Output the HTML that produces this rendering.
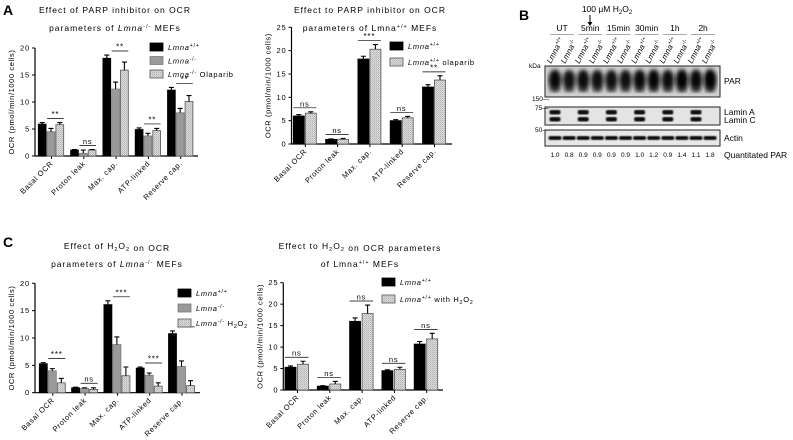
<!DOCTYPE html>
<html><head><meta charset="utf-8">
<style>
html,body{margin:0;padding:0;background:#fff;}
svg{display:block;font-family:"Liberation Sans",sans-serif;}
</style></head>
<body>
<svg id="fig" width="793" height="440" viewBox="0 0 793 440" xmlns="http://www.w3.org/2000/svg">
<defs>
<pattern id="hatch" width="2" height="2" patternUnits="userSpaceOnUse">
<rect width="2" height="2" fill="#dcdcdc"/><rect width="1" height="1" fill="#b0b0b0"/><rect x="1" y="1" width="1" height="1" fill="#c4c4c4"/>
</pattern>
<filter id="blur1"><feGaussianBlur stdDeviation="2.2"/></filter>
<filter id="blur2"><feGaussianBlur stdDeviation="0.8"/></filter>
</defs>
<text x="3" y="15" font-size="14" font-weight="bold">A</text>
<text x="519" y="20" font-size="14" font-weight="bold">B</text>
<text x="3" y="247" font-size="14" font-weight="bold">C</text>
<g id="charts"></g>
<g id="blot"></g>
</svg>
<script>
const NS="http://www.w3.org/2000/svg";
const categories=["Basal OCR","Proton leak","Max. cap.","ATP-linked","Reserve cap."];
const a1Wt=[5.9,1.1,18.1,4.9,12.2], a1WtErr=[0.3,0.1,0.6,0.3,0.5];
const a1Ko=[4.5,0.5,12.4,3.7,8.0], a1KoErr=[0.6,0.6,1.3,0.5,0.8];
const a1Ola=[5.8,1.1,15.9,4.7,10.1], a1OlaErr=[0.4,0.1,1.5,0.4,1.1];
const a1Sig=["**","ns","**","**","**"];
const a2Wt=[6.0,1.0,18.2,5.0,12.2], a2WtErr=[0.3,0.1,0.6,0.2,0.5];
const a2Ola=[6.6,1.0,20.3,5.6,13.7], a2OlaErr=[0.3,0.2,1.0,0.3,0.9];
const a2Sig=["ns","ns","***","ns","**"];
const c1Wt=[5.3,0.9,16.1,4.5,10.8], c1WtErr=[0.2,0.1,0.7,0.2,0.5];
const c1Ko=[4.0,0.8,8.8,3.2,4.8], c1KoErr=[0.4,0.1,1.4,0.4,1.0];
const c1H2o2=[1.8,0.6,3.1,1.2,1.3], c1H2o2Err=[0.8,0.3,1.6,0.6,0.9];
const c1Sig=["***","ns","***","***","***"];
const c2Wt=[5.3,0.9,16.0,4.5,10.7], c2WtErr=[0.3,0.1,0.8,0.2,0.6];
const c2H2o2=[6.0,1.4,17.8,4.8,11.9], c2H2o2Err=[0.7,0.6,2.0,0.5,1.3];
const c2Sig=["ns","ns","ns","ns","ns"];
const ticks20=[0,5,10,15,20], ticks25=[0,5,10,15,20,25];
const quantPar=["1.0","0.8","0.9","0.9","0.9","0.9","1.0","1.2","0.9","1.4","1.1","1.8"];
const timeGroups=["UT","5min","15min","30min","1h","2h"];

function el(tag,attrs,parent){const e=document.createElementNS(NS,tag);for(const k in attrs)e.setAttribute(k,attrs[k]);(parent||root).appendChild(e);return e;}
const root=document.getElementById('charts');
const fills=["#000","#9a9a9a","url(#hatch)"];
const strokes=["#000","#7a7a7a","#555"];

function chart(cfg){
  const g=el('g',{});
  
  
  const yS=v=>cfg.base-(v/cfg.max)*(cfg.base-cfg.top);
  const nS=cfg.series.length;
  const xB=(i,s)=>cfg.start+i*cfg.pitch+s*(cfg.barW+cfg.gap);
  const ya=el('line',{x1:cfg.ax,x2:cfg.ax,y1:yS(cfg.max),y2:cfg.base,stroke:'#000','stroke-width':1.2},g);
  
  const xa=el('line',{x1:cfg.ax,x2:cfg.end,y1:cfg.base,y2:cfg.base,stroke:'#000','stroke-width':1.2},g);
  
  cfg.ticks.forEach(t=>{
    el('line',{x1:cfg.ax-3,x2:cfg.ax,y1:yS(t),y2:yS(t),stroke:'#000'},g);
    const tx=el('text',{x:cfg.ax-5,y:yS(t)+2.5,'font-size':7.5,'text-anchor':'end','letter-spacing':'0.8'},g);
    tx.textContent=t;
    
  });
  const yl=el('text',{x:0,y:0,'font-size':7.5,'text-anchor':'middle','letter-spacing':'0.6',transform:`translate(${cfg.ax-21},${(cfg.base+yS(cfg.max))/2}) rotate(-90)`},g);
  yl.textContent="OCR (pmol/min/1000 cells)";
  
  categories.forEach((c,i)=>{
    const cx=cfg.start+i*cfg.pitch+(nS*(cfg.barW+cfg.gap))/2;
    el('line',{x1:cx,x2:cx,y1:cfg.base,y2:cfg.base+3,stroke:'#000'},g);
    const t=el('text',{x:0,y:0,'font-size':7.5,'text-anchor':'end','letter-spacing':'0.6',transform:`translate(${cx+2},${cfg.base+8}) rotate(-45)`},g);
    t.textContent=c;
    
    let topV=0;
    cfg.series.forEach((s,si)=>{
      const v=s.vals[i],e=s.err[i];topV=Math.max(topV,v+e);
      const x=xB(i,si),y=yS(v);
      const r=el('rect',{x:x,y:y,width:cfg.barW,height:cfg.base-y,fill:fills[s.style],stroke:strokes[s.style],'stroke-width':0.8},g);
      
      const ey=yS(v+e),mx=x+cfg.barW/2;
      const eb=el('path',{d:`M${mx},${y}V${ey}M${mx-2.5},${ey}H${mx+2.5}`,stroke:'#000','stroke-width':1.1,fill:'none'},g);
      
    });
    const s0=nS===3?1:0;
    const x1=xB(i,s0),x2=xB(i,nS-1)+cfg.barW;
    const ly=yS(topV)-4;
    el('line',{x1:x1,x2:x2,y1:ly,y2:ly,stroke:'#000','stroke-width':0.7},g);
    const st=el('text',{x:(x1+x2)/2,y:ly-1.5,'font-size':cfg.sig[i]==='ns'?7.5:8,'text-anchor':'middle','letter-spacing':'0.8'},g);
    st.textContent=cfg.sig[i];
    
  });
  cfg.title.forEach((ln,li)=>{
    const t=el('text',{x:cfg.tx,y:cfg.ty+li*18,'font-size':8.5,'text-anchor':'middle','letter-spacing':'1'},g);
    t.innerHTML=ln;
    
  });
  cfg.legend.forEach((lg,li)=>{
    const y=cfg.ly+li*cfg.lpitch;
    const b=el('rect',{x:cfg.lx,y:y,width:13,height:8,fill:fills[lg.style],stroke:strokes[lg.style],'stroke-width':0.8},g);
    
    const t=el('text',{x:cfg.lx+18,y:y+7,'font-size':7.5,'letter-spacing':'0.7'},g);
    t.innerHTML=lg.label;
    
  });
}
const lm='<tspan font-style="italic">Lmna</tspan>';
const sup=s=>`<tspan font-size="5.5" dy="-3">${s}</tspan><tspan dy="3"> </tspan>`;
const h2o2='H<tspan font-size="5.5" dy="2">2</tspan><tspan dy="-2">O</tspan><tspan font-size="5.5" dy="2">2</tspan><tspan dy="-2"></tspan>';

chart({name:'chart-a-lmna-ko-parp',ax:35,base:156,top:48,max:20,ticks:ticks20,start:38.3,pitch:32.3,barW:7.8,gap:1,end:198,
 series:[{key:'wt',vals:a1Wt,err:a1WtErr,style:0},{key:'ko',vals:a1Ko,err:a1KoErr,style:1},{key:'olaparib',vals:a1Ola,err:a1OlaErr,style:2}],
 sig:a1Sig,tx:115,ty:13,title:['Effect of PARP inhibitor on OCR','parameters of '+lm+sup('-/-')+'MEFs'],
 lx:150,ly:43,lpitch:13.5,legend:[{style:0,label:lm+sup('+/+')},{style:1,label:lm+sup('-/-')},{style:2,label:lm+sup('-/-')+'Olaparib'}]});
chart({name:'chart-a-lmna-wt-parp',ax:291.5,base:144,top:27.3,max:25,ticks:ticks25,start:293.3,pitch:32.3,barW:11,gap:1,end:452,
 series:[{key:'wt',vals:a2Wt,err:a2WtErr,style:0},{key:'olaparib',vals:a2Ola,err:a2OlaErr,style:2}],
 sig:a2Sig,tx:370,ty:13,title:['Effect to PARP inhibitor on OCR','parameters of Lmna'+sup('+/+')+'MEFs'],
 lx:390,ly:42,lpitch:16,legend:[{style:0,label:lm+sup('+/+')},{style:2,label:lm+sup('+/+')+'olaparib'}]});
chart({name:'chart-c-lmna-ko-h2o2',ax:35,base:392.7,top:283.3,max:20,ticks:ticks20,start:39.3,pitch:32.3,barW:8,gap:1,end:200,
 series:[{key:'wt',vals:c1Wt,err:c1WtErr,style:0},{key:'ko',vals:c1Ko,err:c1KoErr,style:1},{key:'h2o2',vals:c1H2o2,err:c1H2o2Err,style:2}],
 sig:c1Sig,tx:117,ty:249,title:['Effect of '+h2o2+' on OCR','parameters of '+lm+sup('-/-')+'MEFs'],
 lx:178,ly:289,lpitch:15,legend:[{style:0,label:lm+sup('+/+')},{style:1,label:lm+sup('-/-')},{style:2,label:lm+sup('-/-')+h2o2}]});
chart({name:'chart-c-lmna-wt-h2o2',ax:283.3,base:390,top:282.7,max:25,ticks:ticks25,start:285,pitch:32.3,barW:11,gap:1.5,end:443,
 series:[{key:'wt',vals:c2Wt,err:c2WtErr,style:0},{key:'h2o2',vals:c2H2o2,err:c2H2o2Err,style:2}],
 sig:c2Sig,tx:360,ty:249,title:['Effect to '+h2o2+' on OCR parameters','of Lmna'+sup('+/+')+'MEFs'],
 lx:382,ly:278,lpitch:17,legend:[{style:0,label:lm+sup('+/+')},{style:2,label:lm+sup('+/+')+'with '+h2o2}]});

const B=document.getElementById('blot');

const laneX=i=>555+i*14.1;
function bt(x,y,txt,fs,anchor,name,extra){const t=el('text',Object.assign({x:x,y:y,'font-size':fs,'text-anchor':anchor||'start'},extra||{}),B);t.innerHTML=txt;return t;}
bt(607,12,'100 μM H<tspan font-size="6" dy="2">2</tspan><tspan dy="-2">O</tspan><tspan font-size="6" dy="2">2</tspan>',8.5,'middle','treatment-label');
el('path',{d:'M590,15V25',stroke:'#000','stroke-width':1},B);
el('path',{d:'M587.5,22L590,26L592.5,22Z',fill:'#000'},B);
timeGroups.forEach((g,k)=>{
  const cx=(laneX(2*k)+laneX(2*k+1))/2;
  bt(cx,31,g,8.5,'middle','time-group-label');
  el('line',{x1:cx-12,x2:cx+12,y1:34.5,y2:34.5,stroke:'#aaa','stroke-width':1},B);
});
for(let i=0;i<12;i++){
  bt(0,0,'<tspan font-style="italic">Lmna</tspan><tspan font-size="5.5" dy="-3">'+(i%2===0?'+/+':'-/-')+'</tspan>',8,'start','lane-label',{transform:`translate(${laneX(i)-4},${64}) rotate(-62)`});
}
bt(529,68,'kDa',6.5,'start','kda-label');
const parBox=el('rect',{x:545,y:66,width:175,height:31,fill:'#d0d0d0',stroke:'#222','stroke-width':1},B);

const parInt=[0.85,0.7,0.8,0.75,0.75,0.75,0.85,0.9,0.8,0.95,0.85,1];
parInt.forEach((v,i)=>{
  el('ellipse',{cx:laneX(i),cy:80,rx:6.5,ry:8+3*v,fill:'#000',opacity:0.7+0.3*v,filter:'url(#blur1)'},B);
  el('ellipse',{cx:laneX(i),cy:89,rx:5.5,ry:3.5,fill:'#222',opacity:0.6,filter:'url(#blur1)'},B);
});
bt(532,101,'150—',6.5,'start','marker-150');
const lamBox=el('rect',{x:545,y:107,width:175,height:18,fill:'#e4e4e4',stroke:'#222','stroke-width':1},B);

for(let i=0;i<12;i+=2){
  el('rect',{x:laneX(i)-5.5,y:110,width:11,height:4.5,rx:2,fill:'#111',filter:'url(#blur2)'},B);
  el('rect',{x:laneX(i)-5.5,y:117,width:11,height:4.5,rx:2,fill:'#111',filter:'url(#blur2)'},B);
}
bt(535,110,'75—',6.5,'start','marker-75');
const actBox=el('rect',{x:545,y:130,width:175,height:16,fill:'#e8e8e8',stroke:'#222','stroke-width':1},B);

for(let i=0;i<12;i++){el('rect',{x:laneX(i)-6.5,y:136,width:13,height:4,rx:2,fill:'#111',filter:'url(#blur2)'},B);}
bt(535,132,'50—',6.5,'start','marker-50');
bt(724,84,'PAR',8.5,'start','par-label');
bt(724,115,'Lamin A',8.5,'start','lamin-a-label');
bt(724,123,'Lamin C',8.5,'start','lamin-c-label');
bt(724,141,'Actin',8.5,'start','actin-label');
quantPar.forEach((q,i)=>bt(laneX(i),157,q,6.5,'middle','quantitated-par-value'));
bt(724,158,'Quantitated PAR',8.5,'start','quantitated-par-label');
</script>
</body></html>
